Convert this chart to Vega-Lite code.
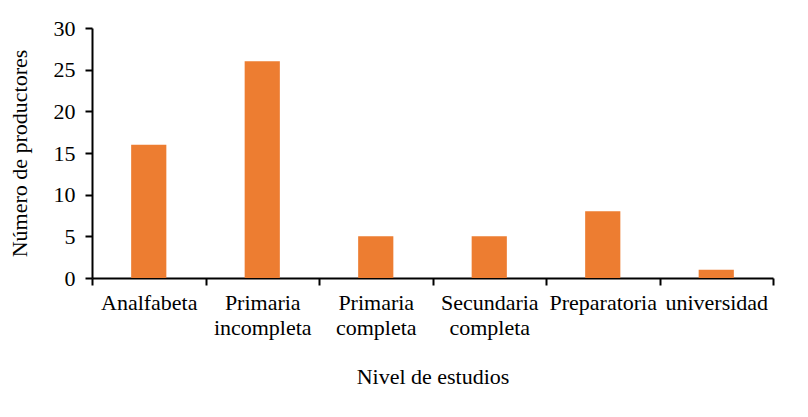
{
  "$schema": "https://vega.github.io/schema/vega-lite/v6.json",
  "width": 681,
  "height": 250,
  "autosize": {"type": "none"},
  "padding": {"left": 92, "top": 28, "right": 35, "bottom": 139},
  "background": "white",
  "config": {
    "view": {"stroke": null},
    "font": "Liberation Serif",
    "axis": {
      "labelFont": "Liberation Serif",
      "titleFont": "Liberation Serif",
      "labelFontSize": 22,
      "titleFontSize": 22,
      "titleFontWeight": "normal",
      "labelColor": "black",
      "titleColor": "black",
      "domainColor": "black",
      "domainWidth": 2,
      "tickColor": "black",
      "tickWidth": 2,
      "grid": false
    }
  },
  "data": {
    "values": [
      {"nivel": "Analfabeta", "n": 16},
      {"nivel": "Primaria incompleta", "n": 26},
      {"nivel": "Primaria completa", "n": 5},
      {"nivel": "Secundaria completa", "n": 5},
      {"nivel": "Preparatoria", "n": 8},
      {"nivel": "universidad", "n": 1}
    ]
  },
  "mark": {"type": "bar", "color": "#ED7D31", "width": {"band": 0.31}},
  "encoding": {
    "x": {
      "field": "nivel",
      "type": "nominal",
      "sort": null,
      "scale": {"paddingInner": 0, "paddingOuter": 0},
      "axis": {
        "title": "Nivel de estudios",
        "labelAngle": 0,
        "labelExpr": "split(datum.label, ' ')",
        "labelLineHeight": 25,
        "labelPadding": 7,
        "titlePadding": 28,
        "labelLimit": 200,
        "ticks": true,
        "tickSize": 7,
        "tickBand": "extent"
      }
    },
    "y": {
      "field": "n",
      "type": "quantitative",
      "scale": {"domain": [0, 30]},
      "axis": {
        "title": "Número de productores",
        "values": [0, 5, 10, 15, 20, 25, 30],
        "tickSize": 7,
        "labelPadding": 10,
        "titlePadding": 22
      }
    }
  }
}
